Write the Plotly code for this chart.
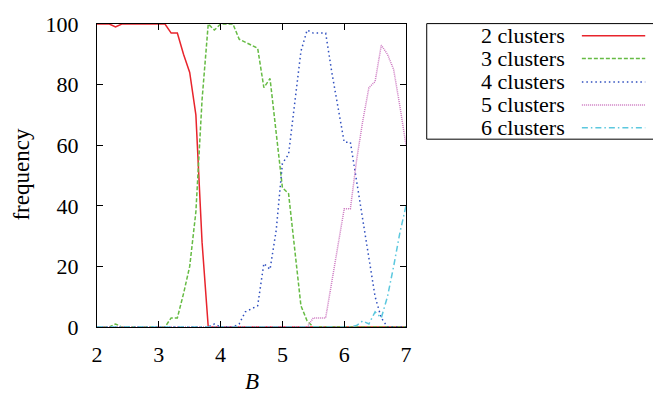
import plotly.graph_objects as go

B = [round(2.0 + 0.1 * i, 1) for i in range(51)]

clusters2 = [100, 100, 100, 99, 100, 100, 100, 100, 100, 100, 100, 100, 97, 97, 90, 84, 70, 28, 0,
             0, 0, 0, 0, 0, 0, 0, 0, 0, 0, 0, 0, 0, 0, 0, 0, 0, 0, 0, 0, 0, 0, 0, 0, 0, 0, 0, 0, 0, 0, 0, 0]
clusters3 = [0, 0, 0, 1, 0, 0, 0, 0, 0, 0, 0, 0, 3, 3, 11, 20, 38, 75, 100,
             98, 100, 100, 100, 95, 94, 93, 92, 79, 82, 64, 46, 44, 25, 7, 2, 0,
             0, 0, 0, 0, 0, 0, 0, 0, 0, 0, 0, 0, 0, 0, 0]
clusters4 = [0, 0, 0, 0, 0, 0, 0, 0, 0, 0, 0, 0, 0, 0, 0, 0, 0, 0, 0,
             1, 0, 0, 0, 1, 5, 6, 7, 21, 19, 32, 54, 57, 74, 91, 98, 97, 97, 97,
             84, 72, 61, 61, 48, 35, 22, 10, 3, 0, 0, 0, 0]
clusters5 = [0, 0, 0, 0, 0, 0, 0, 0, 0, 0, 0, 0, 0, 0, 0, 0, 0, 0, 0,
             0, 0, 0, 0, 0, 0, 0, 0, 0, 0, 0, 0, 0, 0, 0, 0, 3, 3, 3,
             15, 27, 39, 39, 55, 68, 79, 81, 93, 90, 85, 73, 60]
clusters6 = [0, 0, 0, 0, 0, 0, 0, 0, 0, 0, 0, 0, 0, 0, 0, 0, 0, 0, 0,
             0, 0, 0, 0, 0, 0, 0, 0, 0, 0, 0, 0, 0, 0, 0, 0, 0, 0, 0,
             0, 0, 0, 0, 0.5, 2, 1, 5, 3, 10, 20, 31, 40]

names = ["2 clusters", "3 clusters", "4 clusters", "5 clusters", "6 clusters"]
series = [clusters2, clusters3, clusters4, clusters5, clusters6]
colors = ["#e8242c", "#66bb44", "#2f4fbf", "#cc77c0", "#5cc8de"]
dashes = ["solid", "4px,2px", "1.5px,3px", "1px,1px", "6px,3px,1.5px,3px"]

x_ticks = [2, 3, 4, 5, 6, 7]
y_ticks = [0, 20, 40, 60, 80, 100]

FONT = "Liberation Serif"

fig = go.Figure()
for name, ys, c, d in zip(names, series, colors, dashes):
    fig.add_trace(go.Scatter(x=B, y=ys, mode="lines", name=name,
                             line=dict(color=c, width=1.5, dash=d),
                             showlegend=False, cliponaxis=True))

W, H = 653, 396
L, R, T, Bm = 97.3, 247, 19.7, 68.5
pw, ph = W - L - R, H - T - Bm

def px(xp):
    return (xp - L) / pw

def py(yp):
    return (H - Bm - yp) / ph

shapes = []
annotations = []
# legend box
shapes.append(dict(type="rect", xref="paper", yref="paper",
                   x0=px(426.7), x1=px(660), y0=py(136.7), y1=py(19.3),
                   line=dict(color="black", width=1), fillcolor="white", layer="above"))
row_y = [31.7, 54.8, 78.6, 101.9, 125.2]
for name, c, d, ry in zip(names, colors, dashes, row_y):
    annotations.append(dict(xref="paper", yref="paper", x=px(567), y=py(ry),
                            text=name, showarrow=False, xanchor="right", yanchor="middle",
                            font=dict(family=FONT, size=22, color="black")))
    shapes.append(dict(type="line", xref="paper", yref="paper",
                       x0=px(581.7), x1=px(645), y0=py(ry), y1=py(ry),
                       line=dict(color=c, width=1.5, dash=d), layer="above"))

annotations.append(dict(xref="paper", yref="paper", x=px(252), y=py(383),
                        text="<i>B</i>", showarrow=False, xanchor="center", yanchor="middle",
                        font=dict(family=FONT, size=23, color="black")))
annotations.append(dict(xref="paper", yref="paper", x=px(22), y=py(173),
                        text="frequency", showarrow=False, textangle=-90,
                        xanchor="center", yanchor="middle",
                        font=dict(family=FONT, size=23, color="black")))

fig.update_layout(
    width=W, height=H,
    margin=dict(l=L, r=R, t=T, b=Bm, pad=0),
    paper_bgcolor="white", plot_bgcolor="white",
    font=dict(family=FONT, size=22, color="black"),
    shapes=shapes, annotations=annotations,
    showlegend=False,
)
fig.update_xaxes(range=[2, 7], tickvals=x_ticks, ticktext=[str(v) for v in x_ticks],
                 ticks="inside", ticklen=6, tickwidth=1, tickcolor="black",
                 showline=True, linecolor="black", linewidth=1, mirror="ticks",
                 showgrid=False, zeroline=False, ticklabelstandoff=8,
                 tickfont=dict(family=FONT, size=22, color="black"))
fig.update_yaxes(range=[0, 100], tickvals=y_ticks, ticktext=[str(v) for v in y_ticks],
                 ticks="inside", ticklen=6, tickwidth=1, tickcolor="black",
                 showline=True, linecolor="black", linewidth=1, mirror="ticks",
                 showgrid=False, zeroline=False, ticklabelstandoff=13,
                 tickfont=dict(family=FONT, size=22, color="black"))

fig.write_html("out.html")
